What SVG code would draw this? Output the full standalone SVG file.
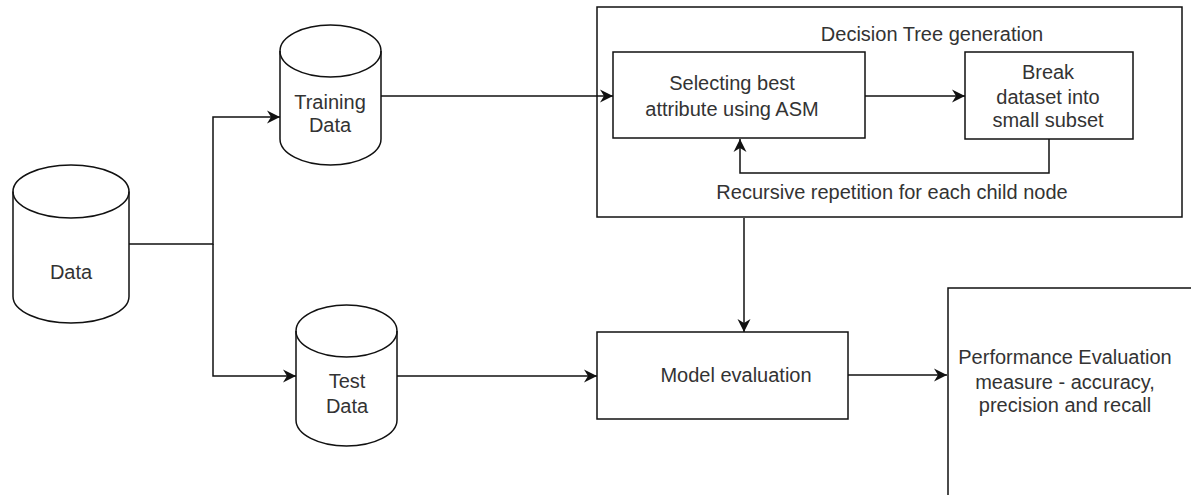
<svg xmlns="http://www.w3.org/2000/svg" width="1191" height="495" viewBox="0 0 1191 495">
<style>
.s{fill:#fff;stroke:#111;stroke-width:1.5}
.c{fill:none;stroke:#111;stroke-width:1.5}
.t{font-family:"Liberation Sans",Arial,sans-serif;font-size:20px;fill:#333;text-anchor:middle}
</style>
<defs>
<marker id="a" markerUnits="userSpaceOnUse" markerWidth="16" markerHeight="16" refX="13" refY="7" orient="auto">
<path d="M0,0.5 L13,7 L0,13.5 L4,7 Z" fill="#111"/>
</marker>
</defs>
<rect width="1191" height="495" fill="#fff"/>
<g id="connectors">
<path class="c" d="M129,244 H213 V117 H280" marker-end="url(#a)"/>
<path class="c" d="M213,244 V376 H296" marker-end="url(#a)"/>
<path class="c" d="M381,96 H613" marker-end="url(#a)"/>
<path class="c" d="M865,96 H965" marker-end="url(#a)"/>
<path class="c" d="M1049,139 V173 H740 V139" marker-end="url(#a)"/>
<path class="c" d="M744,218 V332" marker-end="url(#a)"/>
<path class="c" d="M397,376 H597" marker-end="url(#a)"/>
<path class="c" d="M848,375 H947" marker-end="url(#a)"/>
</g>
<g id="data">
<path class="s" d="M13,191.5 A58,26.5 0 0 1 129,191.5 V296.5 A58,26.5 0 0 1 13,296.5 Z"/>
<path class="c" d="M13,191.5 A58,26.5 0 0 0 129,191.5"/>
<text class="t" x="71" y="279">Data</text>
</g>
<g id="training">
<path class="s" d="M280,51 A50.5,26 0 0 1 381,51 V139 A50.5,26 0 0 1 280,139 Z"/>
<path class="c" d="M280,51 A50.5,26 0 0 0 381,51"/>
<text class="t" x="330" y="109">Training</text>
<text class="t" x="330" y="132">Data</text>
</g>
<g id="test">
<path class="s" d="M296,331 A50.5,26 0 0 1 397,331 V420 A50.5,26 0 0 1 296,420 Z"/>
<path class="c" d="M296,331 A50.5,26 0 0 0 397,331"/>
<text class="t" x="347" y="388">Test</text>
<text class="t" x="347" y="413">Data</text>
</g>
<g id="dtgen">
<rect class="c" x="597" y="7" width="585" height="210"/>
<text class="t" x="932" y="41">Decision Tree generation</text>
<text class="t" x="892" y="199">Recursive repetition for each child node</text>
</g>
<g id="selecting">
<rect class="s" x="613" y="52" width="252" height="86"/>
<text class="t" x="732" y="90">Selecting best</text>
<text class="t" x="732" y="116">attribute using ASM</text>
</g>
<g id="break">
<rect class="s" x="965" y="52" width="168" height="87"/>
<text class="t" x="1048" y="79">Break</text>
<text class="t" x="1048" y="104">dataset into</text>
<text class="t" x="1048" y="127">small subset</text>
</g>
<g id="model">
<rect class="s" x="597" y="332" width="251" height="87"/>
<text class="t" x="736" y="382">Model evaluation</text>
</g>
<g id="performance">
<rect class="s" x="948" y="288" width="260" height="220"/>
<text class="t" x="1065" y="364">Performance Evaluation</text>
<text class="t" x="1065" y="389">measure - accuracy,</text>
<text class="t" x="1065" y="412">precision and recall</text>
</g>
</svg>
